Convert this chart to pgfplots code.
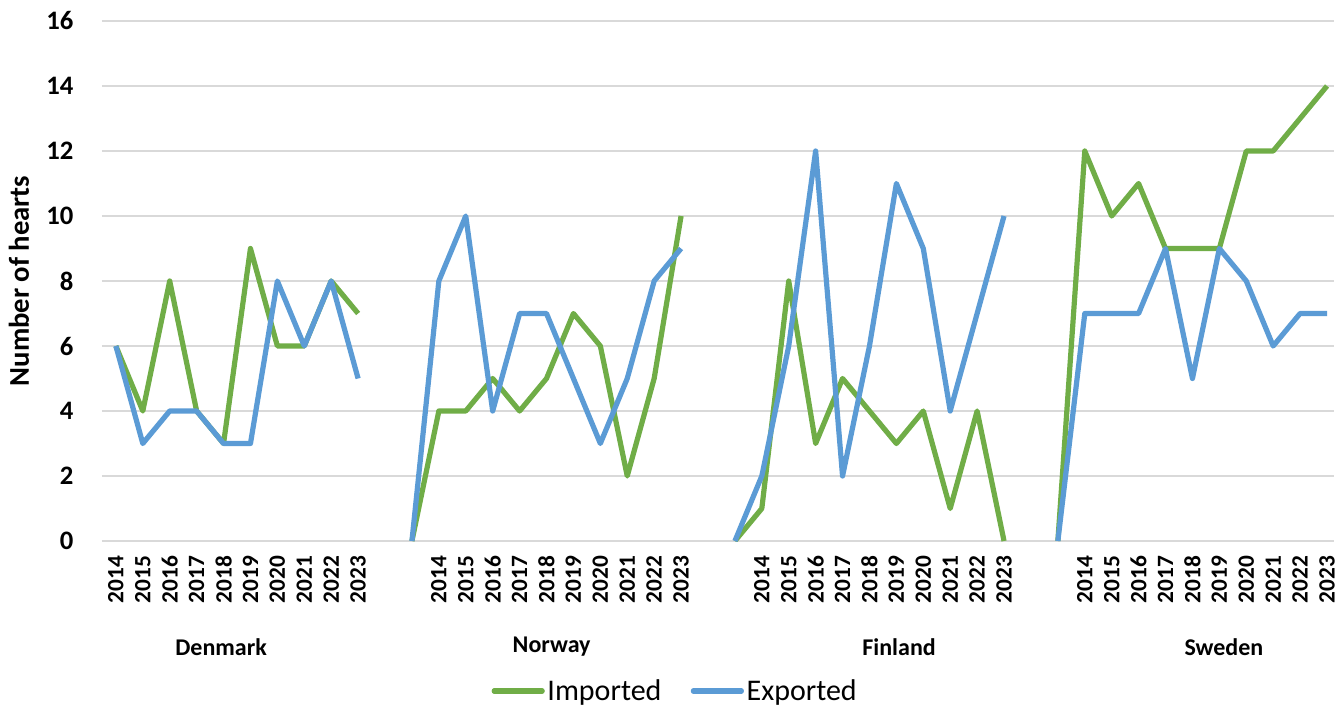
\documentclass[border=0pt]{standalone}
\usepackage{pgfplots}
\pgfplotsset{compat=1.18}
\usepackage{fontspec}
\setmainfont{Carlito}
\usetikzlibrary{calc}
\definecolor{imp}{RGB}{112,173,71}
\definecolor{exp}{RGB}{91,155,213}
\definecolor{gridgray}{RGB}{217,217,217}

\begin{document}
\begin{tikzpicture}[x=0.75pt,y=0.75pt]
\begin{axis}[%
    ,name=ax
    ,scale only axis
    ,width=924pt, height=390pt
    ,xmin=-0.516, xmax=45.26
    ,ymin=0, ymax=16
    ,ytick={0,2,...,16}
    ,xtick={0,1,2,3,4,5,6,7,8,9,12,13,14,15,16,17,18,19,20,21,24,25,26,27,28,29,30,31,32,33,36,37,38,39,40,41,42,43,44,45}
    ,xticklabels={2014,2015,2016,2017,2018,2019,2020,2021,2022,2023,
                  2014,2015,2016,2017,2018,2019,2020,2021,2022,2023,
                  2014,2015,2016,2017,2018,2019,2020,2021,2022,2023,
                  2014,2015,2016,2017,2018,2019,2020,2021,2022,2023}
    ,axis line style={draw=none}
    ,major tick length=0pt
    ,ymajorgrids
    ,grid style={gridgray, line width=1.5pt}
    ,/pgf/number format/assume math mode=true
    ,yticklabel style={font=\fontsize{20}{22}\selectfont\bfseries}
    ,yticklabel shift=18pt
    ,xticklabel style={font=\fontsize{17.5}{18}\selectfont\bfseries, rotate=90, anchor=east, inner sep=1pt}
    ,xticklabel shift=10pt
    ,ylabel={\textbf{Number of hearts}}
    ,ylabel style={font=\fontsize{21.5}{23}\selectfont, yshift=6pt}
    ,unbounded coords=jump
    ,clip mode=individual
    ,legend columns=2
    ,legend style={draw=none, at={(0.4655,-0.2885)}, anchor=center,
        font=\fontsize{22.5}{24}\selectfont, inner sep=0pt,
        /tikz/every even column/.append style={column sep=20pt}}
    ,legend image code/.code={\draw[#1, line cap=round] (0pt,0pt) -- (36pt,0pt);}
    ,every axis plot/.append style={line width=3.9pt, line join=round, no marks}
    ]
% Imported
\addplot[imp] coordinates {
 (0,6) (1,4) (2,8) (3,4) (4,3) (5,9) (6,6) (7,6) (8,8) (9,7) (10,nan) (11,0)
 (12,4) (13,4) (14,5) (15,4) (16,5) (17,7) (18,6) (19,2) (20,5) (21,10) (22,nan) (23,0)
 (24,1) (25,8) (26,3) (27,5) (28,4) (29,3) (30,4) (31,1) (32,4) (33,0) (34,nan) (35,0)
 (36,12) (37,10) (38,11) (39,9) (40,9) (41,9) (42,12) (43,12) (44,13) (45,14)};
\addlegendentry{Imported}
% Exported
\addplot[exp] coordinates {
 (0,6) (1,3) (2,4) (3,4) (4,3) (5,3) (6,8) (7,6) (8,8) (9,5) (10,nan) (11,0)
 (12,8) (13,10) (14,4) (15,7) (16,7) (17,5) (18,3) (19,5) (20,8) (21,9) (22,nan) (23,0)
 (24,2) (25,6) (26,12) (27,2) (28,6) (29,11) (30,9) (31,4) (32,7) (33,10) (34,nan) (35,0)
 (36,7) (37,7) (38,7) (39,9) (40,5) (41,9) (42,8) (43,6) (44,7) (45,7)};
\addlegendentry{Exported}

% group labels
\node[font=\fontsize{18}{20}\selectfont\bfseries] at (axis cs:3.91,-3.26) {Denmark};
\node[font=\fontsize{18}{20}\selectfont\bfseries] at (axis cs:16.19,-3.26) {Norway};
\node[font=\fontsize{18}{20}\selectfont\bfseries] at (axis cs:29.1,-3.26) {Finland};
\node[font=\fontsize{18}{20}\selectfont\bfseries] at (axis cs:41.17,-3.26) {Sweden};
\end{axis}
\pgfresetboundingbox
\useasboundingbox ($(ax.south west)+(-102,-166)$) rectangle ($(ax.north east)+(9,21)$);
\end{tikzpicture}
\end{document}
